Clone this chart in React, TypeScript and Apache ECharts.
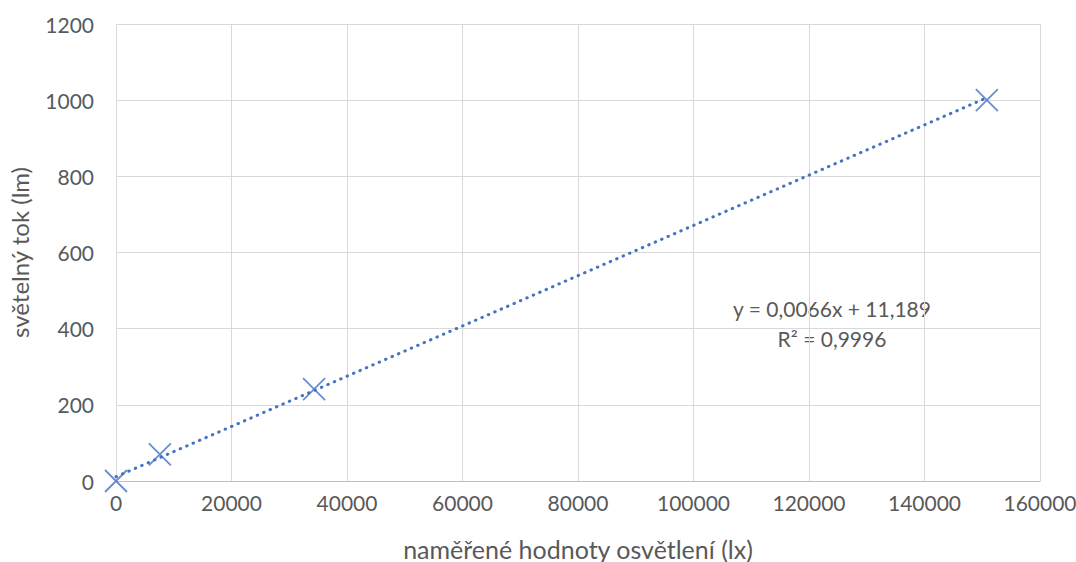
import React, { useEffect, useRef } from "react";
import * as echarts from "echarts";

const pointsX = [0, 7600, 34300, 150800];
const pointsY = [0, 70, 241, 1000];
const slope = 0.0066;
const intercept = 11.189;
const trendX = [0, 150800];
const equationText = "y = 0,0066x + 11,189";
const r2Text = "R² = 0,9996";
const xName = "naměřené hodnoty osvětlení (lx)";
const yName = "světelný tok (lm)";

const FONT = "Lato, 'Open Sans', sans-serif";
const BLUE = "#4472C4";
const TXT = "#595959";

export default function App() {
  const ref = useRef<HTMLDivElement>(null);
  useEffect(() => {
    document.body.style.margin = "0";
    if (!ref.current) return;
    const chart = echarts.init(ref.current, null, { renderer: "svg" });
    const scatterData = pointsX.map((x, i) => [x, pointsY[i]]);
    const trendData = trendX.map((x) => [x, slope * x + intercept]);
    chart.setOption({
      animation: false,
      backgroundColor: "#ffffff",
      textStyle: { fontFamily: FONT },
      grid: {
        left: 116,
        right: 36,
        top: 24,
        bottom: 81,
        containLabel: false,
        outerBoundsMode: "none",
      },
      xAxis: {
        type: "value",
        min: 0,
        max: 160000,
        interval: 20000,
        name: xName,
        nameLocation: "middle",
        nameGap: 55,
        nameTextStyle: { color: TXT, fontSize: 25, fontFamily: FONT },
        axisLine: { show: true, lineStyle: { color: "#BFBFBF", width: 1 } },
        axisTick: { show: false },
        axisLabel: {
          color: TXT,
          fontSize: 21,
          margin: 11,
          fontFamily: FONT,
          formatter: (v: number) => String(v),
        },
        splitLine: { show: true, lineStyle: { color: "#D9D9D9", width: 1 } },
      },
      yAxis: {
        type: "value",
        min: 0,
        max: 1200,
        interval: 200,
        name: yName,
        nameLocation: "middle",
        nameGap: 85,
        nameTextStyle: { color: TXT, fontSize: 24, fontFamily: FONT },
        axisLine: { show: false },
        axisTick: { show: false },
        axisLabel: {
          color: TXT,
          fontSize: 21,
          margin: 22,
          fontFamily: FONT,
          formatter: (v: number) => String(v),
        },
        splitLine: { show: true, lineStyle: { color: "#D9D9D9", width: 1 } },
      },
      series: [
        {
          type: "line",
          data: trendData,
          showSymbol: false,
          symbol: "none",
          lineStyle: { color: BLUE, width: 3, type: [0.5, 6.5], cap: "round" },
          z: 2,
        },
        {
          type: "scatter",
          data: scatterData,
          symbol: "path://M0,0L10,10M10,0L0,10",
          symbolSize: 22,
          itemStyle: { color: "none", borderColor: BLUE, borderWidth: 1.8 },
          z: 3,
        },
      ],
      graphic: [
        {
          type: "group",
          z: 10,
          children: [
            {
              type: "rect",
              shape: { x: 722, y: 284, width: 222, height: 76 },
              style: { fill: "#ffffff" },
            },
            {
              type: "text",
              x: 832,
              y: 308,
              style: {
                text: equationText,
                fill: TXT,
                fontSize: 21,
                fontFamily: FONT,
                align: "center",
                verticalAlign: "middle",
              },
            },
            {
              type: "text",
              x: 832,
              y: 338,
              style: {
                text: r2Text,
                fill: TXT,
                fontSize: 21,
                fontFamily: FONT,
                align: "center",
                verticalAlign: "middle",
              },
            },
          ],
        },
      ],
    });
    return () => chart.dispose();
  }, []);
  return <div ref={ref} style={{ width: 1076, height: 562 }} />;
}
